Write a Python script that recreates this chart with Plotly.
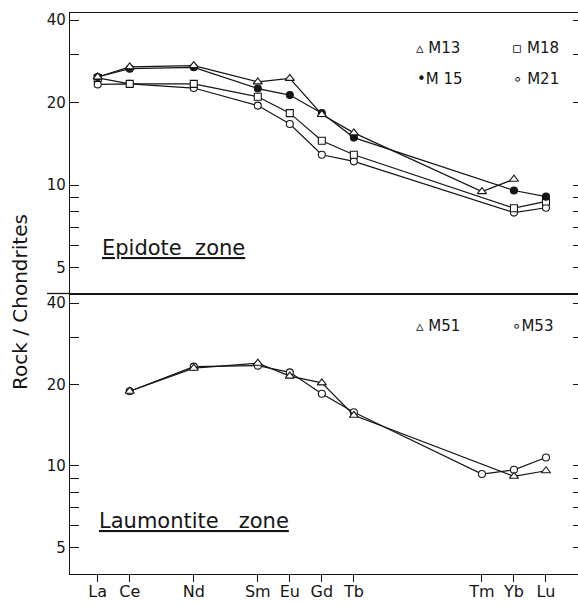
import plotly.graph_objects as go

# ---------------- data ----------------
ree = ["La", "Ce", "Nd", "Sm", "Eu", "Gd", "Tb", "Tm", "Yb", "Lu"]
atomic_number = [57, 58, 60, 62, 63, 64, 65, 69, 70, 71]

# Epidote zone (rock / chondrite)
m13 = [24.8, 27.0, 27.3, 23.8, 24.5, 18.1, 15.5, 9.46, 10.5, None]
m15 = [24.8, 26.6, 26.9, 22.5, 21.3, 18.3, 14.9, None, 9.55, 9.07]
m18 = [24.6, 23.4, 23.4, 21.0, 18.3, 14.5, 12.9, None, 8.23, 8.71]
m21 = [23.3, 23.4, 22.6, 19.5, 16.7, 12.9, 12.2, None, 7.93, 8.26]

# Laumontite zone
m51 = [None, 18.9, 23.0, 24.0, 21.5, 20.3, 15.4, None, 9.16, 9.6]
m53 = [None, 18.9, 23.3, 23.5, 22.2, 18.5, 15.8, 9.34, 9.68, 10.75]

ytick_vals = [5, 6, 7, 8, 9, 10, 20, 30, 40]
ytick_text = ["5", "", "", "", "", "10", "20", "", "40"]

# ---------------- figure ----------------
W, H = 578, 605
ML, MR, MT, MB = 70, 0, 13, 31
PW, PH = W - ML - MR, H - MT - MB


def paper(xp, yp):
    return (xp - ML) / PW, (H - MB - yp) / PH


FONT = "DejaVu Sans"
INK = "#151515"

fig = go.Figure()


def add(vals, name, symbol, fill, xa, ya, size=7):
    fig.add_trace(go.Scatter(
        x=atomic_number, y=vals, name=name, mode="lines+markers",
        connectgaps=True, xaxis=xa, yaxis=ya,
        line=dict(color=INK, width=1.2),
        marker=dict(symbol=symbol, size=size, color=fill,
                    line=dict(color=INK, width=1.1)),
        showlegend=False))


add(m21, "M21", "circle", "white", "x", "y")
add(m18, "M18", "square", "white", "x", "y")
add(m15, "M15", "circle", INK, "x", "y")
add(m13, "M13", "triangle-up", "white", "x", "y", size=8)
add(m53, "M53", "circle", "white", "x2", "y2")
add(m51, "M51", "triangle-up", "white", "x2", "y2", size=8)

xr = [56.135, 72.0]
yax_common = dict(type="log", tickvals=ytick_vals, ticktext=ytick_text,
                  ticks="inside", ticklen=9, tickwidth=1.2, tickcolor=INK,
                  showgrid=False, zeroline=False, showline=True,
                  linecolor=INK, linewidth=1.3,
                  tickfont=dict(family=FONT, size=15, color=INK))

fig.update_layout(
    width=W, height=H,
    margin=dict(l=ML, r=MR, t=MT, b=MB),
    paper_bgcolor="white", plot_bgcolor="white",
    xaxis=dict(domain=[0, 1], anchor="y", range=xr, showticklabels=False,
               ticks="", showgrid=False, zeroline=False, showline=True,
               mirror=True, linecolor=INK, linewidth=1.3),
    xaxis2=dict(domain=[0, 1], anchor="y2", range=xr, tickvals=atomic_number,
                ticktext=ree, ticks="outside", ticklen=7, tickwidth=1,
                tickcolor=INK, showgrid=False, zeroline=False, showline=True,
                mirror=True, linecolor=INK, linewidth=1.3,
                ticklabelstandoff=-4,
                tickfont=dict(family=FONT, size=16, color=INK)),
    yaxis=dict(domain=[0.5, 1], anchor="x", range=[0.604, 1.628], **yax_common),
    yaxis2=dict(domain=[0, 0.5], anchor="x2", range=[0.6005, 1.638], **yax_common),
    yaxis3=dict(overlaying="y", side="right", anchor="x", type="log",
                range=[0.604, 1.628], tickvals=ytick_vals,
                showticklabels=False, ticks="inside", ticklen=5,
                tickcolor=INK, showline=False, showgrid=False, zeroline=False),
    yaxis4=dict(overlaying="y2", side="right", anchor="x2", type="log",
                range=[0.6005, 1.638], tickvals=ytick_vals,
                showticklabels=False, ticks="inside", ticklen=5,
                tickcolor=INK, showline=False, showgrid=False, zeroline=False),
)

# invisible traces to activate the right-hand tick axes
fig.add_trace(go.Scatter(x=[None], y=[None], xaxis="x", yaxis="y3",
                         showlegend=False, hoverinfo="skip"))
fig.add_trace(go.Scatter(x=[None], y=[None], xaxis="x2", yaxis="y4",
                         showlegend=False, hoverinfo="skip"))

# divider extension to the left of the axis
x0, y0 = paper(47, 293)
fig.add_shape(type="line", xref="paper", yref="paper", x0=x0, x1=0,
              y0=0.5, y1=0.5, line=dict(color=INK, width=1.3))

annos = []


def text(xp, yp, s, size=15, anchor="left", angle=0):
    px_, py_ = paper(xp, yp)
    annos.append(dict(x=px_, y=py_, xref="paper", yref="paper", text=s,
                      showarrow=False, xanchor=anchor, yanchor="middle",
                      textangle=angle,
                      font=dict(family=FONT, size=size, color=INK)))


# legends
text(414, 48, "\u25b5 M13", 15)
text(510, 48, "\u25ab M18", 15)
text(415, 79, "\u2022M 15", 15)
text(511, 79, "\u2218 M21", 15)
text(414, 326, "\u25b5 M51", 15)
text(510, 326, "\u2218M53", 15)

# zone labels
text(100, 248, "<u>Epidote\u00a0\u00a0zone</u>", 21)
text(97, 521, "<u>Laumontite\u00a0\u00a0\u00a0zone</u>", 21)

# y-axis title
text(20, 302, "Rock / Chondrites", 20, anchor="center", angle=-90)

fig.update_layout(annotations=annos)

fig.write_html("out.html")
